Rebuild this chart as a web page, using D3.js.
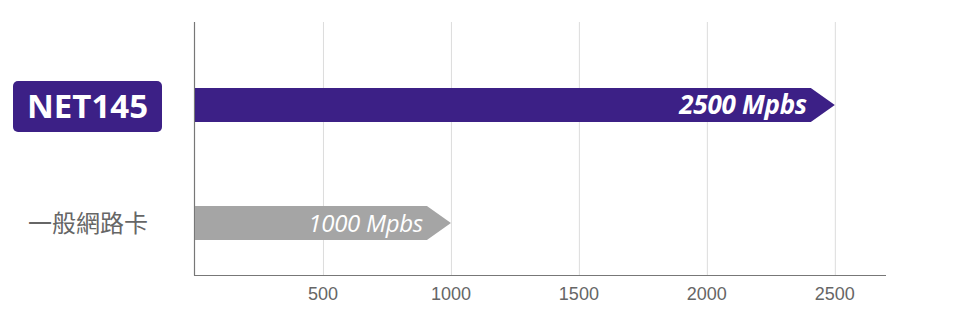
<!DOCTYPE html>
<html lang="zh-Hant">
<head>
  <meta charset="UTF-8">
  <title>NET145</title>
  <script src="https://d3js.org/d3.v7.min.js"></script>
  <style>
    body { margin: 0; background: #fff; }
    .grid line { stroke: #dcdcdc; stroke-width: 1px; }
    .tick-label { font-family: "Liberation Sans", Arial, sans-serif; font-size: 18px; fill: #666; }
  </style>
</head>
<body>
  <script>
    // データ
    const categories = ['NET145', '一般網路卡'];
    const speeds = [2500, 1000];
    const barLabels = ['2500 Mpbs', '1000 Mpbs'];
    const tickValues = [500, 1000, 1500, 2000, 2500];

    const width = 960;
    const height = 323;

    const svg = d3.select('body').append('svg')
      .attr('width', width)
      .attr('height', height);

    const x = d3.scaleLinear().domain([0, 2700]).range([195, 886]);
    const y = d3.scaleBand().domain(categories).range([29, 299]).paddingInner(0.712).paddingOuter(0.5);

    // グリッド
    svg.append('g')
      .attr('class', 'grid')
      .selectAll('line')
      .data(tickValues)
      .enter().append('line')
      .attr('x1', d => x(d) + 0.5)
      .attr('x2', d => x(d) + 0.5)
      .attr('y1', 22)
      .attr('y2', 275);

    // 軸
    svg.append('line')
      .attr('x1', 194.5).attr('x2', 194.5)
      .attr('y1', 22).attr('y2', 275.5)
      .attr('stroke', '#777').attr('stroke-width', 1.2);
    svg.append('line')
      .attr('x1', 194).attr('x2', x(2700))
      .attr('y1', 275.5).attr('y2', 275.5)
      .attr('stroke', '#777').attr('stroke-width', 1.2);

    svg.append('g')
      .selectAll('text')
      .data(tickValues)
      .enter().append('text')
      .attr('class', 'tick-label')
      .attr('x', d => x(d))
      .attr('y', 300)
      .attr('text-anchor', 'middle')
      .text(d => d);

    // バー（矢印）
    const colors = ['#3c2086', '#a5a5a5'];
    const head = 24;

    svg.append('g')
      .selectAll('path')
      .data(speeds)
      .enter().append('path')
      .attr('fill', (d, i) => colors[i])
      .attr('d', (d, i) => {
        const y0 = y(categories[i]);
        const h = y.bandwidth();
        const x0 = x(0);
        const x1 = x(d);
        return `M${x0},${y0}H${x1 - head}L${x1},${y0 + h / 2}L${x1 - head},${y0 + h}H${x0}Z`;
      });

    svg.append('g')
      .selectAll('text')
      .data(speeds)
      .enter().append('text')
      .attr('x', d => x(d) - 28)
      .attr('y', (d, i) => y(categories[i]) + y.bandwidth() / 2 + 9)
      .attr('text-anchor', 'end')
      .attr('fill', '#fff')
      .style('font-family', '"Open Sans", sans-serif')
      .style('font-style', 'italic')
      .style('font-weight', (d, i) => i === 0 ? 700 : 400)
      .style('font-size', (d, i) => i === 0 ? '26px' : '24px')
      .style('letter-spacing', '-0.3px')
      .text((d, i) => barLabels[i]);

    // カテゴリラベル
    const y1 = y(categories[0]) + y.bandwidth() / 2;
    svg.append('rect')
      .attr('x', 13).attr('y', y1 - 24)
      .attr('width', 149).attr('height', 51)
      .attr('rx', 5)
      .attr('fill', colors[0]);
    svg.append('text')
      .attr('x', 87.5).attr('y', y1 + 13)
      .attr('text-anchor', 'middle')
      .attr('fill', '#fff')
      .style('font-family', '"Open Sans", sans-serif')
      .style('font-weight', 700)
      .style('font-size', '33px')
      .text(categories[0]);

    const y2 = y(categories[1]) + y.bandwidth() / 2;
    svg.append('text')
      .attr('x', 88).attr('y', y2 + 9)
      .attr('text-anchor', 'middle')
      .attr('fill', '#666')
      .style('font-family', '"Noto Sans CJK TC", sans-serif')
      .style('font-size', '24px')
      .text(categories[1]);
  </script>
</body>
</html>
